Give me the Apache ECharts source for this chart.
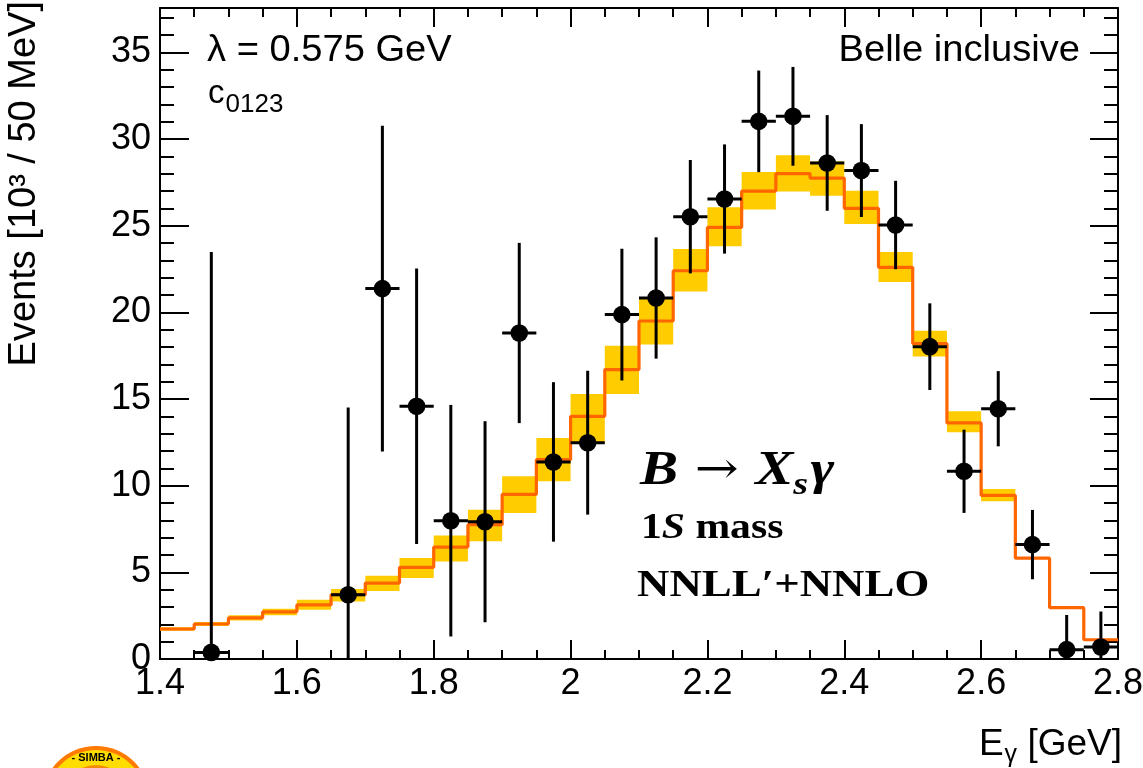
<!DOCTYPE html>
<html>
<head>
<meta charset="utf-8">
<script src="https://cdn.jsdelivr.net/npm/echarts@6/dist/echarts.min.js"></script>
<style>
  html, body { margin: 0; padding: 0; background: #ffffff; }
  #chart { width: 1143px; height: 768px; }
</style>
</head>
<body>
<div id="chart"></div>
<script>
// Photon energy bins (lower edges, GeV), 50 MeV wide
const binLow = [1.40, 1.45, 1.50, 1.55, 1.60, 1.65, 1.70, 1.75, 1.80, 1.85,
                1.90, 1.95, 2.00, 2.05, 2.10, 2.15, 2.20, 2.25, 2.30, 2.35,
                2.40, 2.45, 2.50, 2.55, 2.60, 2.65, 2.70, 2.75];
const binWidth = 0.05;

// SIMBA fit prediction (10^3 events / 50 MeV) and its uncertainty band
const theoryValues = [1.73, 2.02, 2.37, 2.72, 3.12, 3.71, 4.38, 5.29, 6.46, 7.75,
                      9.50, 11.50, 14.00, 16.70, 19.50, 22.40, 24.90, 27.00, 28.00, 27.75,
                      26.00, 22.60, 18.20, 13.62, 9.44, 5.82, 2.96, 1.11];
const bandLow  = [1.63, 1.90, 2.22, 2.52, 2.84, 3.32, 3.93, 4.67, 5.63, 6.79,
                  8.42, 10.25, 12.46, 15.29, 18.14, 21.21, 23.81, 25.93, 26.98, 26.73,
                  25.10, 21.75, 17.46, 13.08, 9.10, 5.82, 2.96, 1.11];
const bandHigh = [1.83, 2.14, 2.52, 2.90, 3.42, 4.04, 4.80, 5.83, 7.13, 8.61,
                  10.54, 12.75, 15.29, 18.08, 20.83, 23.66, 26.06, 28.10, 29.06, 28.71,
                  27.02, 23.48, 18.94, 14.29, 9.81, 5.82, 2.96, 1.11];

// Belle inclusive measurement
const dataCenters = [1.475, 1.675, 1.725, 1.775, 1.825, 1.875, 1.925, 1.975, 2.025, 2.075,
                     2.125, 2.175, 2.225, 2.275, 2.325, 2.375, 2.425, 2.475, 2.525, 2.575,
                     2.625, 2.675, 2.725, 2.775];
const dataValues  = [0.38, 3.71, 21.37, 14.58, 7.98, 7.92, 18.81, 11.37, 12.48, 19.87,
                     20.83, 25.52, 26.54, 31.02, 31.31, 28.62, 28.18, 25.04, 18.02, 10.83,
                     14.44, 6.60, 0.54, 0.69];
const dataErrors  = [23.1, 10.8, 9.4, 7.95, 6.68, 5.8, 5.2, 4.6, 4.15, 3.8,
                     3.5, 3.27, 3.15, 2.93, 2.85, 2.76, 2.68, 2.55, 2.5, 2.4,
                     2.17, 2.0, 2.0, 2.05];

const xMin = 1.4, xMax = 2.8, xStep = 0.2;
const yMin = 0, yMax = 37.56, yStep = 5, yMinorStep = 1;

const BLACK = '#000000';
const BAND = '#ffcc00';
const LINE = '#ff6600';
const SANS = 'Liberation Sans, Arial, Helvetica, sans-serif';
const SERIF = 'Liberation Serif, Times New Roman, serif';

const chart = echarts.init(document.getElementById('chart'), null, { renderer: 'canvas' });

function xAxisCfg(pos, showLabels) {
  return {
    type: 'value', position: pos, min: xMin, max: xMax, interval: xStep,
    axisLine: { show: true, onZero: false, lineStyle: { color: BLACK, width: 2 } },
    axisTick: { show: true, inside: true, length: 19, lineStyle: { color: BLACK, width: 2 } },
    minorTick: { show: true, splitNumber: 4, length: 9, lineStyle: { color: BLACK, width: 2 } },
    splitLine: { show: false },
    minorSplitLine: { show: false },
    axisLabel: {
      show: showLabels, color: BLACK, fontSize: 36, fontFamily: SANS, margin: 7,
      showMinLabel: true, showMaxLabel: true
    }
  };
}
function yAxisCfg(pos, step, tickLen, showLabels, showLine) {
  return {
    type: 'value', position: pos, min: yMin, max: yMax, interval: step,
    axisLine: { show: showLine, onZero: false, lineStyle: { color: BLACK, width: 2 } },
    axisTick: { show: true, inside: true, length: tickLen, lineStyle: { color: BLACK, width: 2 } },
    minorTick: { show: false },
    splitLine: { show: false },
    axisLabel: {
      show: showLabels, color: BLACK, fontSize: 36, fontFamily: SANS, margin: 9,
      showMinLabel: true, showMaxLabel: false
    }
  };
}

const bandData = binLow.map((x, i) => [x, x + binWidth, bandLow[i], bandHigh[i]]);
const stepData = binLow.map((x, i) => [x, theoryValues[i]])
  .concat([[binLow[binLow.length - 1] + binWidth, theoryValues[theoryValues.length - 1]]]);
const pointData = dataCenters.map((x, i) => [x, dataValues[i], dataErrors[i]]);

const option = {
  animation: false,
  backgroundColor: '#ffffff',
  grid: { left: 160, right: 25, top: 8, bottom: 109, containLabel: false, outerBoundsMode: 'none' },
  xAxis: [xAxisCfg('bottom', true), xAxisCfg('top', false)],
  yAxis: [
    yAxisCfg('left', yStep, 29, true, true),
    yAxisCfg('left', yMinorStep, 14, false, false),
    yAxisCfg('right', yStep, 28, false, true),
    yAxisCfg('right', yMinorStep, 14, false, false)
  ],
  series: [
    {
      // uncertainty band of the prediction
      type: 'custom',
      xAxisIndex: 0, yAxisIndex: 0,
      encode: { x: [0, 1], y: [2, 3] },
      data: bandData,
      z: 1,
      renderItem: function (params, api) {
        const p1 = api.coord([api.value(0), api.value(3)]);
        const p2 = api.coord([api.value(1), api.value(2)]);
        return {
          type: 'rect',
          shape: { x: p1[0], y: p1[1], width: p2[0] - p1[0], height: Math.max(p2[1] - p1[1], 0) },
          style: { fill: BAND }
        };
      }
    },
    {
      // central prediction as a histogram outline
      type: 'line',
      xAxisIndex: 0, yAxisIndex: 0,
      step: 'end',
      data: stepData,
      symbol: 'none',
      z: 2,
      lineStyle: { color: LINE, width: 3.2 }
    },
    {
      // measured points with statistical error bars
      type: 'custom',
      xAxisIndex: 0, yAxisIndex: 0,
      encode: { x: 0, y: 1 },
      data: pointData,
      z: 3,
      renderItem: function (params, api) {
        const x = api.value(0), v = api.value(1), e = api.value(2);
        const c = api.coord([x, v]);
        const top = api.coord([x, Math.min(v + e, yMax)]);
        const bot = api.coord([x, Math.max(v - e, yMin)]);
        const l = api.coord([x - binWidth / 2, v]);
        const r = api.coord([x + binWidth / 2, v]);
        const ls = { stroke: BLACK, lineWidth: 3 };
        return {
          type: 'group',
          children: [
            { type: 'line', shape: { x1: c[0], y1: top[1], x2: c[0], y2: bot[1] }, style: ls },
            { type: 'line', shape: { x1: l[0], y1: c[1], x2: r[0], y2: c[1] }, style: ls },
            { type: 'circle', shape: { cx: c[0], cy: c[1], r: 8.8 }, style: { fill: BLACK } }
          ]
        };
      }
    }
  ],
  graphic: [
    {
      type: 'text', x: 25, y: 1, rotation: Math.PI / 2,
      style: { text: 'Events [10³ / 50 MeV]', font: '38px ' + SANS, fill: BLACK, align: 'right', verticalAlign: 'middle' }
    },
    {
      type: 'text', x: 1122, y: 745,
      style: {
        text: '{m|E}{s|γ}{m| [GeV]}', align: 'right', verticalAlign: 'middle', fill: BLACK,
        rich: {
          m: { fontSize: 37, fontFamily: SANS, fill: BLACK },
          s: { fontSize: 25, fontFamily: SANS, fill: BLACK, padding: [20, 0, 0, 1] }
        }
      }
    },
    {
      type: 'text', x: 207, y: 51, scaleX: 1.03,
      style: { text: 'λ = 0.575 GeV', font: '37px ' + SANS, fill: BLACK, align: 'left', verticalAlign: 'middle' }
    },
    {
      type: 'text', x: 208, y: 94,
      style: {
        text: '{m|c}{s|0123}', align: 'left', verticalAlign: 'middle', fill: BLACK,
        rich: {
          m: { fontSize: 33, fontFamily: SANS, fill: BLACK },
          s: { fontSize: 26, fontFamily: SANS, fill: BLACK, padding: [22, 0, 0, 1] }
        }
      }
    },
    {
      type: 'text', x: 1080, y: 51, scaleX: 1.03,
      style: { text: 'Belle inclusive', font: '37px ' + SANS, fill: BLACK, align: 'right', verticalAlign: 'middle' }
    },
    {
      type: 'text', x: 640, y: 472, scaleX: 1.19,
      style: {
        text: '{i|B}{u| → }{i|X}{s|s}{i|γ}', align: 'left', verticalAlign: 'middle', fill: BLACK,
        rich: {
          i: { fontSize: 48, fontFamily: SERIF, fontStyle: 'italic', fontWeight: 'bold', fill: BLACK },
          u: { fontSize: 44, fontFamily: 'DejaVu Serif, serif', fill: BLACK },
          s: { fontSize: 32, fontFamily: SERIF, fontStyle: 'italic', fontWeight: 'bold', fill: BLACK, padding: [28, 2, 0, 0] }
        }
      }
    },
    {
      type: 'text', x: 641, y: 529, scaleX: 1.19,
      style: {
        text: '{u|1}{i|S}{u| mass}', align: 'left', verticalAlign: 'middle', fill: BLACK,
        rich: {
          u: { fontSize: 35, fontFamily: SERIF, fontWeight: 'bold', fill: BLACK },
          i: { fontSize: 35, fontFamily: SERIF, fontStyle: 'italic', fontWeight: 'bold', fill: BLACK }
        }
      }
    },
    {
      type: 'text', x: 637, y: 586, scaleX: 1.18,
      style: { text: 'NNLL′+NNLO', font: 'bold 38px ' + SERIF, fill: BLACK, align: 'left', verticalAlign: 'middle' }
    },
    // SIMBA emblem in the lower-left corner
    { type: 'circle', shape: { cx: 96, cy: 800, r: 54 }, style: { fill: '#ff7a00' }, z: 10 },
    { type: 'circle', shape: { cx: 96, cy: 800, r: 50 }, style: { fill: '#ffdd00' }, z: 11 },
    { type: 'circle', shape: { cx: 96, cy: 800, r: 35 }, style: { fill: '#f08c00' }, z: 12 },
    {
      type: 'text', x: 96, y: 758, z: 13,
      style: { text: '- SIMBA -', font: 'bold 11px ' + SANS, fill: BLACK, align: 'center', verticalAlign: 'middle' }
    }
  ]
};

chart.setOption(option);
</script>
</body>
</html>
